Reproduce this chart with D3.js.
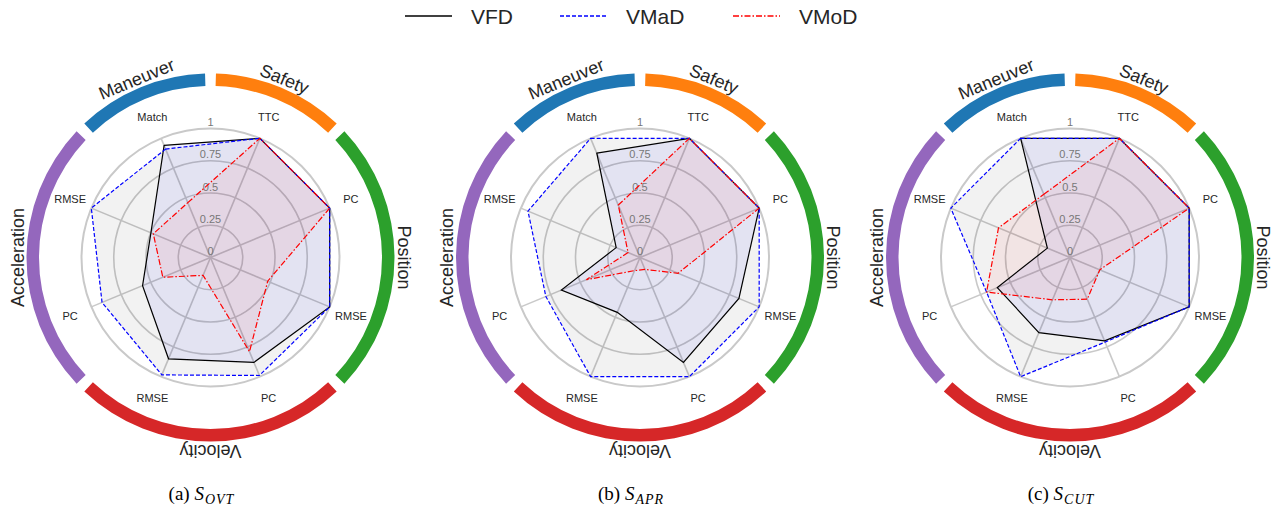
<!DOCTYPE html>
<html>
<head>
<meta charset="utf-8">
<script src="https://cdn.jsdelivr.net/npm/d3@7"></script>
<style>
  html, body { margin: 0; padding: 0; background: #fff; }
  svg { display: block; }
</style>
</head>
<body>
<svg id="chart" width="1285" height="512"></svg>
<script>
// Metric axes, clockwise from the top
const axisLabels = ["Match", "TTC", "PC", "RMSE", "PC", "RMSE", "PC", "RMSE"];
// Metric groups and how many axes each one spans
const groupNames = ["Maneuver", "Safety", "Position", "Velocity", "Acceleration"];
const groupSpans = [1, 1, 2, 2, 2];
const radialTicks = [0, 0.25, 0.5, 0.75, 1];
const seriesNames = ["VFD", "VMaD", "VMoD"];

// Scenario: overtaking
const ovtVFD  = [0.94, 1.00, 1.00, 1.00, 0.88, 0.85, 0.57, 0.50];
const ovtVMaD = [0.91, 1.00, 1.00, 1.00, 0.99, 0.985, 0.91, 1.00];
const ovtVMoD = [0.46, 1.00, 1.00, 0.48, 0.79, 0.15, 0.40, 0.48];
// Scenario: approaching
const aprVFD  = [0.875, 1.00, 1.00, 0.83, 0.88, 0.46, 0.66, 0.20];
const aprVMaD = [1.00, 1.00, 1.00, 1.00, 1.00, 1.00, 0.79, 0.94];
const aprVMoD = [0.44, 1.00, 1.00, 0.32, 0.10, 0.11, 0.45, 0.10];
// Scenario: cut-in
const cutVFD  = [1.00, 1.00, 1.00, 1.00, 0.70, 0.63, 0.61, 0.19];
const cutVMaD = [1.00, 1.00, 1.00, 1.00, 0.71, 1.00, 0.70, 1.00];
const cutVMoD = [0.53, 1.00, 1.00, 0.25, 0.35, 0.355, 0.70, 0.60];

const panelLetters = ["(a)", "(b)", "(c)"];
const panelSubscripts = ["OVT", "APR", "CUT"];

// ---- styling ----
const groupColors = ["#1f77b4", "#ff7f0e", "#2ca02c", "#d62728", "#9467bd"];
const lineColors = ["#000000", "#0000ff", "#ff0000"];
const lineDash = [null, "4,2", "6,2,1.5,2"];
const fillColors = ["#0000ff", "#000000", "#ff0000"];
const fillOpacity = [0.06, 0.052, 0.055];

const panels = [
  [ovtVFD, ovtVMaD, ovtVMoD],
  [aprVFD, aprVMaD, aprVMoD],
  [cutVFD, cutVMaD, cutVMoD]
];
const centersX = [210.5, 640, 1070];
const centerY = 257.5;
const R = 129;

const svg = d3.select("#chart");
const rScale = d3.scaleLinear().domain([0, 1]).range([0, R]);
// first axis sits half a step (22.5°) left of 12 o'clock
const aScale = d3.scaleLinear().domain([0, axisLabels.length])
  .range([-Math.PI / 8, 2 * Math.PI - Math.PI / 8]);

const sansFont = "'Liberation Sans', Arial, sans-serif";

panels.forEach((series, p) => {
  const g = svg.append("g").attr("transform", `translate(${centersX[p]},${centerY})`);

  // grid circles and spokes
  g.selectAll("circle.grid").data(radialTicks.filter(d => d > 0)).join("circle")
    .attr("class", "grid")
    .attr("r", d => rScale(d))
    .attr("fill", "none")
    .attr("stroke", "#c9c9c9")
    .attr("stroke-width", d => d === 1 ? 2 : 1.6);
  g.selectAll("line.spoke").data(axisLabels).join("line")
    .attr("class", "spoke")
    .attr("x1", 0).attr("y1", 0)
    .attr("x2", (d, i) => rScale(1) * Math.sin(aScale(i)))
    .attr("y2", (d, i) => -rScale(1) * Math.cos(aScale(i)))
    .attr("stroke", "#c9c9c9")
    .attr("stroke-width", 1.6);

  const radial = d3.lineRadial()
    .angle((d, i) => aScale(i))
    .radius(d => rScale(d))
    .curve(d3.curveLinearClosed);

  // translucent areas
  g.selectAll("path.area").data(series).join("path")
    .attr("class", "area")
    .attr("d", d => radial(d))
    .attr("fill", (d, i) => fillColors[i])
    .attr("fill-opacity", (d, i) => fillOpacity[i])
    .attr("stroke", "none");

  // radial tick labels
  g.selectAll("text.rtick").data(radialTicks).join("text")
    .attr("class", "rtick")
    .attr("x", 0)
    .attr("y", d => -(rScale(d) + 6.5))
    .attr("text-anchor", "middle")
    .attr("dominant-baseline", "central")
    .attr("font-family", sansFont)
    .attr("font-size", 11)
    .attr("fill", "#777777")
    .text(d => d3.format("~g")(d));

  // outlines
  g.selectAll("path.outline").data(series).join("path")
    .attr("class", "outline")
    .attr("d", d => radial(d))
    .attr("fill", "none")
    .attr("stroke", (d, i) => lineColors[i])
    .attr("stroke-width", 1.2)
    .attr("stroke-dasharray", (d, i) => lineDash[i]);

  // metric labels
  g.selectAll("text.axis").data(axisLabels).join("text")
    .attr("class", "axis")
    .attr("x", (d, i) => 152 * Math.sin(aScale(i)))
    .attr("y", (d, i) => -152 * Math.cos(aScale(i)))
    .attr("text-anchor", "middle")
    .attr("dominant-baseline", "central")
    .attr("font-family", sansFont)
    .attr("font-size", 11)
    .attr("fill", "#262626")
    .text(d => d);

  // group arcs, each spanning its axes with half a step on either side
  const gap = 1.7 * Math.PI / 180;
  let start = 0;
  const groupData = groupNames.map((name, k) => {
    const a0 = aScale(start) - Math.PI / 8;
    const a1 = aScale(start + groupSpans[k]) - Math.PI / 8;
    start += groupSpans[k];
    return { name, k, a0, a1 };
  });

  const arc = d3.arc().innerRadius(171.5).outerRadius(184);
  g.selectAll("path.group").data(groupData).join("path")
    .attr("class", "group")
    .attr("d", d => arc({ startAngle: d.a0 + gap, endAngle: d.a1 - gap }))
    .attr("fill", d => groupColors[d.k]);

  g.selectAll("text.group").data(groupData).join("text")
    .attr("class", "group")
    .attr("transform", d => {
      const mid = (d.a0 + d.a1) / 2 * 180 / Math.PI;
      return `rotate(${mid}) translate(0,${-193})`;
    })
    .attr("text-anchor", "middle")
    .attr("dominant-baseline", "central")
    .attr("font-family", sansFont)
    .attr("font-size", 18)
    .attr("fill", "#262626")
    .text(d => d.name);

  // caption
  const cap = svg.append("text")
    .attr("x", centersX[p] - 9)
    .attr("y", 500)
    .attr("text-anchor", "middle")
    .attr("font-family", "'Liberation Serif', 'Times New Roman', serif")
    .attr("font-size", 19)
    .attr("fill", "#000");
  cap.append("tspan").text(panelLetters[p] + " ");
  cap.append("tspan").attr("font-style", "italic").text("S");
  cap.append("tspan").attr("font-style", "italic").attr("font-size", 14)
    .attr("dx", 1).attr("dy", 4).attr("letter-spacing", 1).text(panelSubscripts[p]);
});

// legend
const legendX = [405, 560, 733];
const leg = svg.append("g");
seriesNames.forEach((name, i) => {
  leg.append("line")
    .attr("x1", legendX[i]).attr("x2", legendX[i] + 47)
    .attr("y1", 16).attr("y2", 16)
    .attr("stroke", lineColors[i])
    .attr("stroke-width", 1.4)
    .attr("stroke-dasharray", lineDash[i]);
  leg.append("text")
    .attr("x", legendX[i] + 66)
    .attr("y", 16)
    .attr("dominant-baseline", "central")
    .attr("font-family", sansFont)
    .attr("font-size", 21)
    .attr("fill", "#262626")
    .text(name);
});
</script>
</body>
</html>
